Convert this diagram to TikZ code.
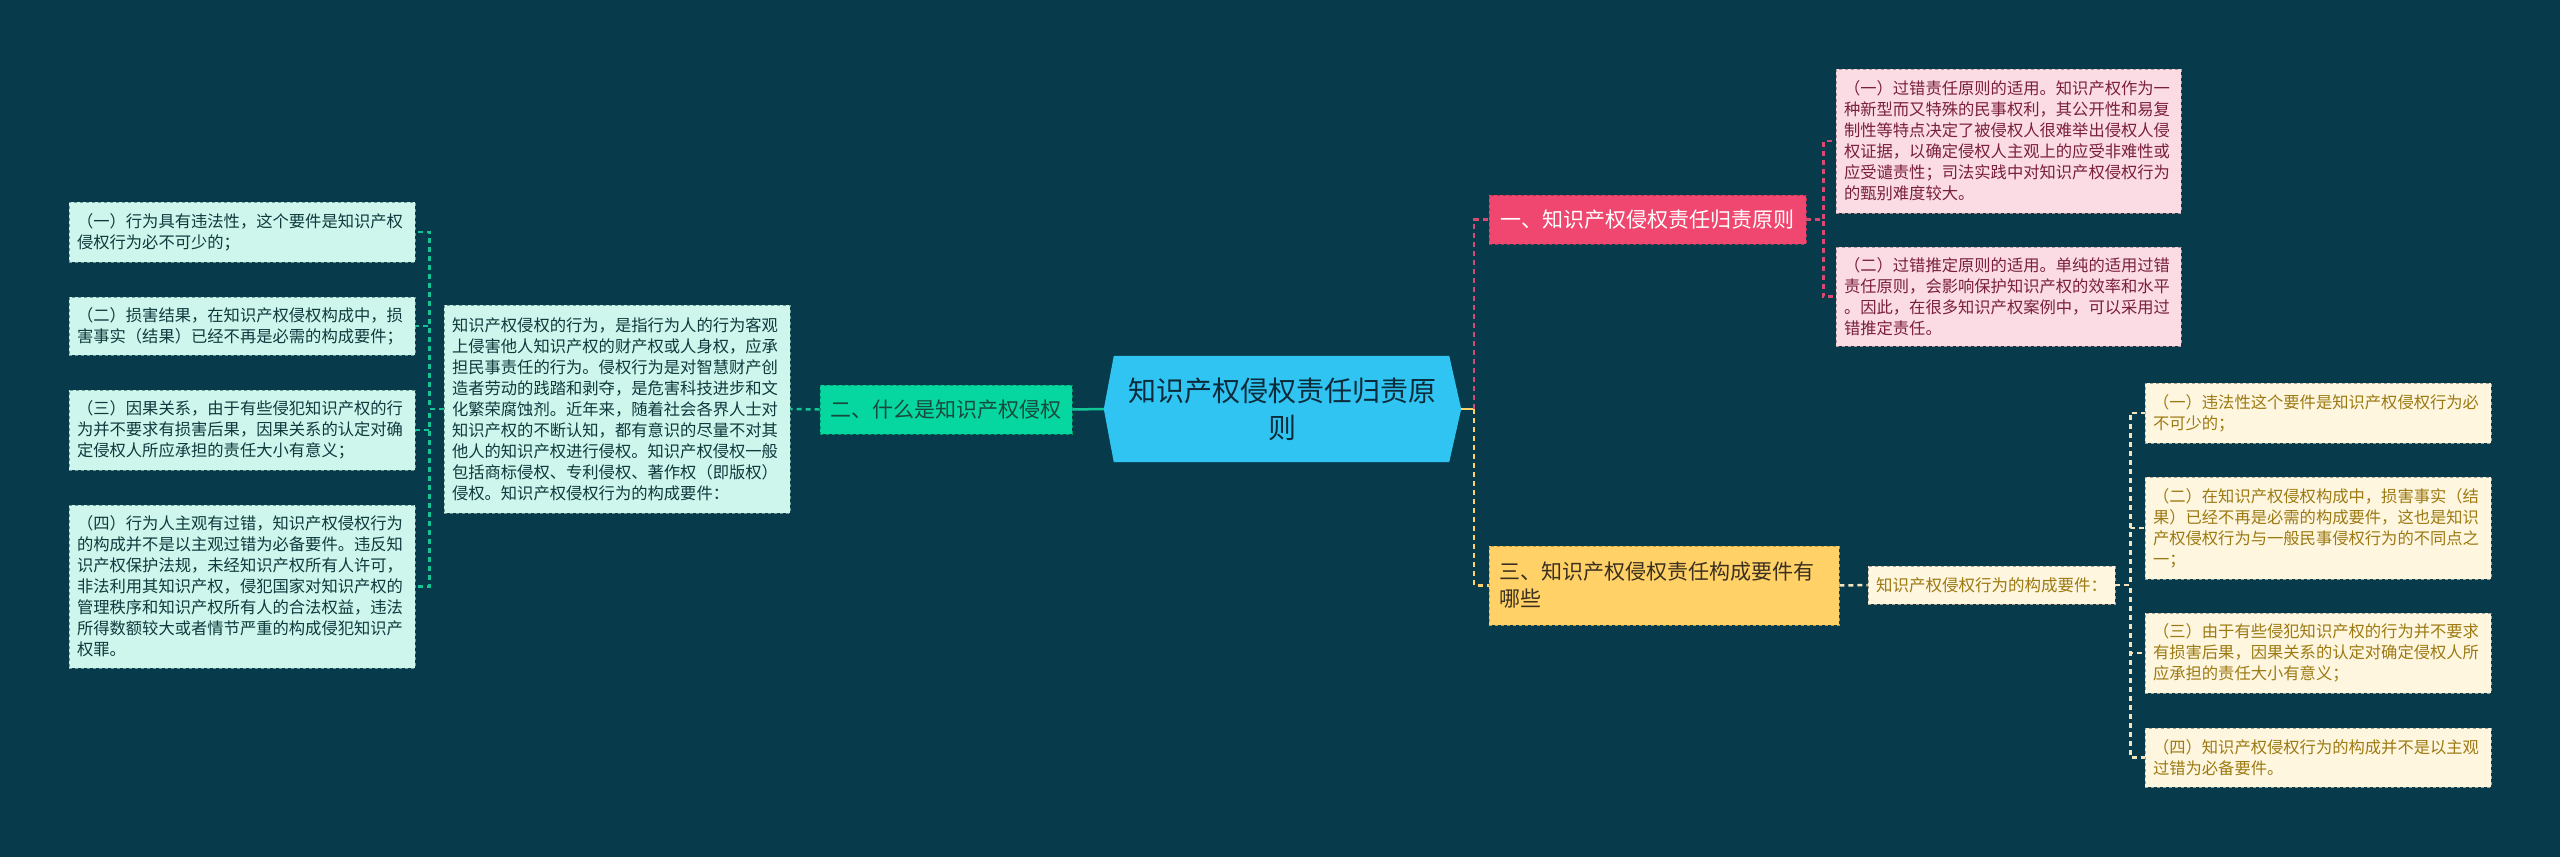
\documentclass[tikz,border=0pt]{standalone}
\usepackage{fontspec}
\setmainfont{Noto Sans CJK SC}
\usetikzlibrary{backgrounds}
\definecolor{bgc}{HTML}{073B4C}
\definecolor{centerfill}{HTML}{30C4F2}
\definecolor{centertext}{HTML}{0B2B3A}
\definecolor{greenfill}{HTML}{06D6A0}
\definecolor{greenborder}{HTML}{04996F}
\definecolor{greentext}{HTML}{174A3C}
\definecolor{pinkfill}{HTML}{EF476F}
\definecolor{pinkborder}{HTML}{B8304F}
\definecolor{yellowfill}{HTML}{FFD166}
\definecolor{yellowborder}{HTML}{C29A3A}
\definecolor{yellowtext}{HTML}{3B3020}
\definecolor{mintfill}{HTML}{CFF6EC}
\definecolor{mintborder}{HTML}{6E9C94}
\definecolor{minttext}{HTML}{0E3A3E}
\definecolor{rosefill}{HTML}{FBDCE4}
\definecolor{roseborder}{HTML}{B0979F}
\definecolor{rosetext}{HTML}{7A1F3D}
\definecolor{creamfill}{HTML}{FFF6E0}
\definecolor{creamborder}{HTML}{A8A290}
\definecolor{creamtext}{HTML}{9C7A12}
\definecolor{conngreen}{HTML}{12C596}
\definecolor{connpink}{HTML}{D94A72}
\definecolor{connyellow}{HTML}{FFD166}
\definecolor{conncream}{HTML}{F3E4BD}
\begin{document}
\begin{tikzpicture}[x=1pt,y=-1pt,
  smallfont/.style={font=\fontsize{16.3pt}{21pt}\selectfont},
  leafbox/.style={smallfont, dashed, line width=0.9pt, align=left, inner xsep=8pt, inner ysep=0pt, text width=330pt, minimum width=346pt},
  mintbox/.style={leafbox, draw=mintborder, fill=mintfill, text=minttext},
  rosebox/.style={leafbox, draw=roseborder, fill=rosefill, text=rosetext, text width=329pt, minimum width=345pt},
  creambox/.style={leafbox, draw=creamborder, fill=creamfill, text=creamtext},
  branchbox/.style={font=\fontsize{21pt}{27pt}\selectfont, dashed, line width=0.9pt, inner xsep=10pt, inner ysep=0pt},
  conn/.style={line width=2.5pt, dash pattern=on 5pt off 4pt},
  solidconn/.style={line width=2.5pt},
]
\useasboundingbox (0,0) rectangle (2560,857);

% center
\node[minimum width=357pt, minimum height=106pt, inner sep=0pt, align=center, text=centertext,
  font=\fontsize{28pt}{37pt}\selectfont] (c) at (1282.5,409) {知识产权侵权责任归责原\\则};
\begin{scope}[on background layer]
\fill[bgc] (0,0) rectangle (2560,857);
\fill[centerfill] (c.west) -- ([xshift=10pt]c.north west) -- ([xshift=-12pt]c.north east)
  -- (c.east) -- ([xshift=-12pt]c.south east) -- ([xshift=10pt]c.south west) -- cycle;
\end{scope}

% left side
\node[branchbox, draw=greenborder, fill=greenfill, text=greentext, minimum width=252pt, minimum height=49pt] (two) at (946,409.5) {二、什么是知识产权侵权};
\node[mintbox, minimum height=208pt] (big) at (617,409) {知识产权侵权的行为，是指行为人的行为客观\\上侵害他人知识产权的财产权或人身权，应承\\担民事责任的行为。侵权行为是对智慧财产创\\造者劳动的践踏和剥夺，是危害科技进步和文\\化繁荣腐蚀剂。近年来，随着社会各界人士对\\知识产权的不断认知，都有意识的尽量不对其\\他人的知识产权进行侵权。知识产权侵权一般\\包括商标侵权、专利侵权、著作权（即版权）\\侵权。知识产权侵权行为的构成要件：};
\node[mintbox, minimum height=60pt] (b1) at (242,232) {（一）行为具有违法性，这个要件是知识产权\\侵权行为必不可少的；};
\node[mintbox, minimum height=58pt] (b2) at (242,326) {（二）损害结果，在知识产权侵权构成中，损\\害事实（结果）已经不再是必需的构成要件；};
\node[mintbox, minimum height=80pt] (b3) at (242,430) {（三）因果关系，由于有些侵犯知识产权的行\\为并不要求有损害后果，因果关系的认定对确\\定侵权人所应承担的责任大小有意义；};
\node[mintbox, minimum height=163pt] (b4) at (242,586.5) {（四）行为人主观有过错，知识产权侵权行为\\的构成并不是以主观过错为必备要件。违反知\\识产权保护法规，未经知识产权所有人许可，\\非法利用其知识产权，侵犯国家对知识产权的\\管理秩序和知识产权所有人的合法权益，违法\\所得数额较大或者情节严重的构成侵犯知识产\\权罪。};

% right side
\node[branchbox, draw=pinkborder, fill=pinkfill, text=white, minimum width=317pt, minimum height=49pt] (one) at (1647.5,219.5) {一、知识产权侵权责任归责原则};
\node[branchbox, draw=yellowborder, fill=yellowfill, text=yellowtext, align=left, text width=330pt, minimum width=350pt, minimum height=79pt] (three) at (1664,585.5) {三、知识产权侵权责任构成要件有\\哪些};
\node[rosebox, minimum height=144pt] (p1) at (2008.5,141) {（一）过错责任原则的适用。知识产权作为一\\种新型而又特殊的民事权利，其公开性和易复\\制性等特点决定了被侵权人很难举出侵权人侵\\权证据，以确定侵权人主观上的应受非难性或\\应受谴责性；司法实践中对知识产权侵权行为\\的甄别难度较大。};
\node[rosebox, minimum height=99pt] (p2) at (2008.5,296.5) {（二）过错推定原则的适用。单纯的适用过错\\责任原则，会影响保护知识产权的效率和水平\\。因此，在很多知识产权案例中，可以采用过\\错推定责任。};
\node[creambox, font=\fontsize{16.5pt}{21pt}\selectfont, text width=231pt, minimum width=247pt, minimum height=38pt] (req) at (1991.5,585) {知识产权侵权行为的构成要件：};
\node[creambox, minimum height=60pt] (r1) at (2318,413) {（一）违法性这个要件是知识产权侵权行为必\\不可少的；};
\node[creambox, minimum height=102pt] (r2) at (2318,528) {（二）在知识产权侵权构成中，损害事实（结\\果）已经不再是必需的构成要件，这也是知识\\产权侵权行为与一般民事侵权行为的不同点之\\一；};
\node[creambox, minimum height=80pt] (r3) at (2318,653) {（三）由于有些侵犯知识产权的行为并不要求\\有损害后果，因果关系的认定对确定侵权人所\\应承担的责任大小有意义；};
\node[creambox, minimum height=59pt] (r4) at (2318,757.5) {（四）知识产权侵权行为的构成并不是以主观\\过错为必备要件。};

% connectors
\draw[solidconn, conngreen] (c.west) -- (two.east);
\draw[conn, conngreen] (two.west) -- (big.east);
\foreach \n in {b1,b2,b3,b4}
  \draw[conn, conngreen] (big.west) -- ++(-14,0) |- (\n.east);
\draw[solidconn, connyellow] (c.east) -- ++(13,0) coordinate (cb);
\draw[conn, connpink] (cb) |- (one.west);
\draw[conn, connyellow] (cb) |- (three.west);
\foreach \n in {p1,p2}
  \draw[conn, connpink] (one.east) -- ++(17,0) |- (\n.west);
\draw[conn, conncream] (three.east) -- (req.west);
\foreach \n in {r1,r2,r3,r4}
  \draw[conn, conncream] (req.east) -- ++(15,0) |- (\n.west);
\end{tikzpicture}
\end{document}
